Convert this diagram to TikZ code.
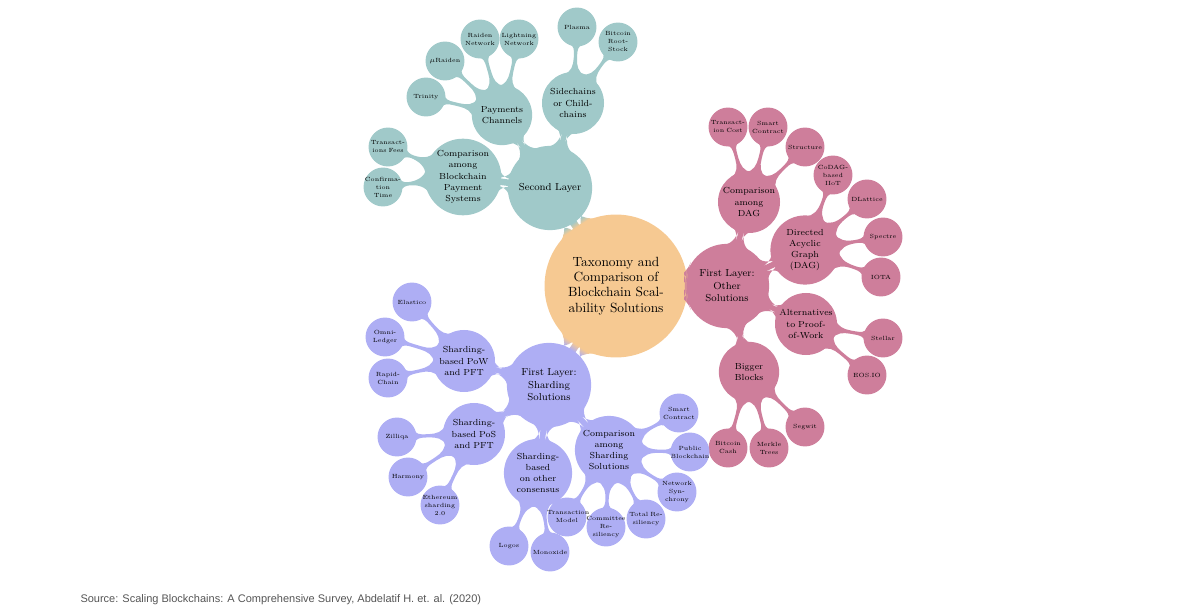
\documentclass[tikz,border=0pt]{standalone}
\usepackage{fontspec}
\newfontfamily\srcfont{Liberation Sans}
\usetikzlibrary{mindmap}
\definecolor{rootcol}{RGB}{246,201,146}
\definecolor{secondcol}{RGB}{160,201,201}
\definecolor{othercol}{RGB}{206,126,155}
\definecolor{shardcol}{RGB}{174,174,244}
\definecolor{srcgrey}{RGB}{85,85,85}
\begin{document}
\begin{tikzpicture}[x=0.75pt,y=0.75pt,mindmap,text=black,
  rootc/.style={concept,concept color=rootcol,minimum size=106pt,text width=80pt,inner sep=0pt,font=\fontsize{10pt}{11.6pt}\selectfont,align=center},
  lvlone/.style={concept,minimum size=62pt,text width=50pt,inner sep=0pt,font=\fontsize{7.6pt}{9.4pt}\selectfont,align=center},
  lvltwo/.style={concept,minimum size=44pt,text width=40pt,inner sep=0pt,font=\fontsize{6.6pt}{8.4pt}\selectfont,align=center},
  leafc/.style={concept,minimum size=28pt,text width=30pt,inner sep=-3pt,font=\fontsize{4.5pt}{6pt}\selectfont,align=center}]
\useasboundingbox (0,0) rectangle (1200,-614);
\node[rootc] (root) at (616,-286){Taxonomy and\\Comparison of\\Blockchain Scal-\\ability Solutions};

\begin{scope}[concept color=secondcol]
\node[lvlone] (sl) at (550,-188){Second Layer};
\path (root) to[circle connection bar switch color=from (rootcol) to (secondcol)] (sl);
\node[lvltwo] (cpay) at (463,-177){Comparison\\among\\Blockchain\\Payment\\Systems};
\path (sl) to[circle connection bar] (cpay);
\node[leafc] (fees) at (388,-147){Transact-\\ions Fees};
\path (cpay) to[circle connection bar] (fees);
\node[leafc] (conf) at (383,-187){Confirma-\\tion\\Time};
\path (cpay) to[circle connection bar] (conf);
\node[lvltwo] (pch) at (502,-115){Payments\\Channels};
\path (sl) to[circle connection bar] (pch);
\node[leafc] (trin) at (426,-97){Trinity};
\path (pch) to[circle connection bar] (trin);
\node[leafc] (mur) at (445,-61){$\mu$Raiden};
\path (pch) to[circle connection bar] (mur);
\node[leafc] (rdn) at (480,-39){Raiden\\Network};
\path (pch) to[circle connection bar] (rdn);
\node[leafc] (ltn) at (519,-39){Lightning\\Network};
\path (pch) to[circle connection bar] (ltn);
\node[lvltwo] (side) at (573,-103){Sidechains\\or Child-\\chains};
\path (sl) to[circle connection bar] (side);
\node[leafc] (plas) at (577,-27){Plasma};
\path (side) to[circle connection bar] (plas);
\node[leafc] (rsk) at (618,-42){Bitcoin\\Root-\\Stock};
\path (side) to[circle connection bar] (rsk);
\end{scope}

\begin{scope}[concept color=othercol]
\node[lvlone] (ofl) at (727,-286){First Layer:\\Other\\Solutions};
\path (root) to[circle connection bar switch color=from (rootcol) to (othercol)] (ofl);
\node[lvltwo] (cdag) at (749,-202){Comparison\\among\\DAG};
\path (ofl) to[circle connection bar] (cdag);
\node[leafc] (txc) at (728,-127){Transact-\\ion Cost};
\path (cdag) to[circle connection bar] (txc);
\node[leafc] (smc) at (768,-127){Smart\\Contract};
\path (cdag) to[circle connection bar] (smc);
\node[leafc] (strc) at (805,-147){Structure};
\path (cdag) to[circle connection bar] (strc);
\node[lvltwo] (dag) at (805,-250){Directed\\Acyclic\\Graph\\(DAG)};
\path (ofl) to[circle connection bar] (dag);
\node[leafc] (codag) at (833,-175){CoDAG-\\based\\IIoT};
\path (dag) to[circle connection bar] (codag);
\node[leafc] (dlat) at (867,-199){DLattice};
\path (dag) to[circle connection bar] (dlat);
\node[leafc] (spec) at (883,-237){Spectre};
\path (dag) to[circle connection bar] (spec);
\node[leafc] (iota) at (881,-277){IOTA};
\path (dag) to[circle connection bar] (iota);
\node[lvltwo] (alt) at (806,-324){Alternatives\\to Proof-\\of-Work};
\path (ofl) to[circle connection bar] (alt);
\node[leafc] (stel) at (883,-338){Stellar};
\path (alt) to[circle connection bar] (stel);
\node[leafc] (eos) at (867,-375){EOS.IO};
\path (alt) to[circle connection bar] (eos);
\node[lvltwo] (big) at (749,-372){Bigger\\Blocks};
\path (ofl) to[circle connection bar] (big);
\node[leafc] (bch) at (728,-448){Bitcoin\\Cash};
\path (big) to[circle connection bar] (bch);
\node[leafc] (mkl) at (769,-448){Merkle\\Trees};
\path (big) to[circle connection bar] (mkl);
\node[leafc] (segw) at (805,-427){Segwit};
\path (big) to[circle connection bar] (segw);
\end{scope}

\begin{scope}[concept color=shardcol]
\node[lvlone] (sfl) at (549,-385){First Layer:\\Sharding\\Solutions};
\path (root) to[circle connection bar switch color=from (rootcol) to (shardcol)] (sfl);
\node[lvltwo] (pow) at (464,-361){Sharding-\\based PoW\\and PFT};
\path (sfl) to[circle connection bar] (pow);
\node[leafc] (elas) at (412,-302){Elastico};
\path (pow) to[circle connection bar] (elas);
\node[leafc] (omni) at (385,-337){Omni-\\Ledger};
\path (pow) to[circle connection bar] (omni);
\node[leafc] (rapid) at (388,-378){Rapid-\\Chain};
\path (pow) to[circle connection bar] (rapid);
\node[lvltwo] (pos) at (474,-434){Sharding-\\based PoS\\and PFT};
\path (sfl) to[circle connection bar] (pos);
\node[leafc] (zil) at (397,-437){Zilliqa};
\path (pos) to[circle connection bar] (zil);
\node[leafc] (harm) at (408,-477){Harmony};
\path (pos) to[circle connection bar] (harm);
\node[leafc] (eth) at (440,-505){Ethereum\\sharding\\2.0};
\path (pos) to[circle connection bar] (eth);
\node[lvltwo] (ocon) at (538,-473){Sharding-\\based\\on other\\consensus};
\path (sfl) to[circle connection bar] (ocon);
\node[leafc] (logo) at (509,-546){Logos};
\path (ocon) to[circle connection bar] (logo);
\node[leafc] (mono) at (550,-552){Monoxide};
\path (ocon) to[circle connection bar] (mono);
\node[lvltwo] (cshd) at (609,-450){Comparison\\among\\Sharding\\Solutions};
\path (sfl) to[circle connection bar] (cshd);
\node[leafc] (txm) at (567,-517){Transaction\\Model};
\path (cshd) to[circle connection bar] (txm);
\node[leafc] (cres) at (606,-527){Committee\\Re-\\siliency};
\path (cshd) to[circle connection bar] (cres);
\node[leafc] (tres) at (646,-519){Total Re-\\siliency};
\path (cshd) to[circle connection bar] (tres);
\node[leafc] (nsyn) at (677,-492){Network\\Syn-\\chrony};
\path (cshd) to[circle connection bar] (nsyn);
\node[leafc] (pubb) at (690,-452){Public\\Blockchain};
\path (cshd) to[circle connection bar] (pubb);
\node[leafc] (scon) at (679,-413){Smart\\Contract};
\path (cshd) to[circle connection bar] (scon);
\end{scope}

\node[anchor=west,inner sep=0pt,text width={},text=srcgrey,font=\srcfont\fontsize{8.25pt}{10pt}\selectfont] (src) at (80.5,-600){Source: Scaling Blockchains: A Comprehensive Survey, Abdelatif H. et. al. (2020)};
\end{tikzpicture}
\end{document}
